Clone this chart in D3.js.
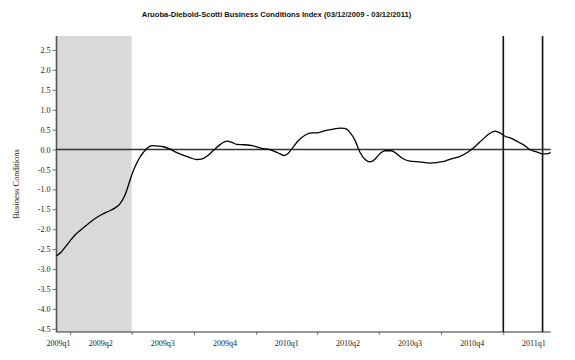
<!DOCTYPE html>
<html>
<head>
<meta charset="utf-8">
<script src="https://cdn.jsdelivr.net/npm/d3@7"></script>
<style>
  html, body { margin: 0; padding: 0; background: #fff; }
  svg { display: block; }
  .serif text, text.serif { font-family: "Liberation Serif", "Times New Roman", serif !important; }
</style>
</head>
<body>
<svg id="chart" width="575" height="360"></svg>
<script>
// ---- data ----
const dates = [
  "2009-03-12","2009-03-19","2009-03-29","2009-04-08","2009-04-18","2009-04-28","2009-05-08","2009-05-18",
  "2009-05-28","2009-06-06","2009-06-14","2009-06-21","2009-06-29","2009-07-03","2009-07-08","2009-07-13",
  "2009-07-18","2009-07-23","2009-07-31","2009-08-07","2009-08-17","2009-08-27","2009-09-05","2009-09-15",
  "2009-09-25","2009-10-05","2009-10-12","2009-10-20","2009-10-30","2009-11-09","2009-11-19","2009-11-26",
  "2009-12-03","2009-12-15","2009-12-28","2010-01-09","2010-01-21","2010-02-02","2010-02-11","2010-02-17",
  "2010-02-24","2010-03-04","2010-03-14","2010-03-24","2010-04-02","2010-04-12","2010-04-25","2010-05-05",
  "2010-05-12","2010-05-20","2010-05-27","2010-06-03","2010-06-11","2010-06-18","2010-06-25","2010-07-03",
  "2010-07-10","2010-07-20","2010-07-27","2010-08-06","2010-08-16","2010-08-31","2010-09-14","2010-09-27",
  "2010-10-07","2010-10-17","2010-10-29","2010-11-10","2010-11-20","2010-11-30","2010-12-10","2010-12-20",
  "2010-12-27","2011-01-03","2011-01-13","2011-01-23","2011-01-30","2011-02-09","2011-02-19","2011-03-01",
  "2011-03-08","2011-03-12"
];
const values = [
  -2.67,-2.57,-2.36,-2.15,-2.00,-1.86,-1.73,-1.63,
  -1.55,-1.47,-1.36,-1.15,-0.75,-0.55,-0.36,-0.20,
  -0.08,0.02,0.10,0.09,0.07,0.01,-0.07,-0.14,
  -0.20,-0.25,-0.24,-0.17,-0.02,0.13,0.21,0.18,
  0.13,0.12,0.09,0.03,0.00,-0.08,-0.15,-0.10,
  0.05,0.22,0.36,0.42,0.42,0.47,0.51,0.54,
  0.53,0.42,0.23,-0.06,-0.25,-0.31,-0.25,-0.10,
  -0.03,-0.03,-0.10,-0.23,-0.29,-0.31,-0.34,-0.32,
  -0.29,-0.23,-0.17,-0.06,0.07,0.23,0.38,0.46,
  0.42,0.34,0.28,0.19,0.13,0.00,-0.06,-0.11,
  -0.10,-0.08
];
const dateRange = ["2009-03-12", "2011-03-12"];
const recession = ["2009-03-12", "2009-07-01"];
const markerDates = ["2011-01-01", "2011-02-28"];
const quarterTicks = ["2009-04-01","2009-07-01","2009-10-01","2010-01-01","2010-04-01","2010-07-01","2010-10-01","2011-01-01"];
const quarterLabels = ["2009q1","2009q2","2009q3","2009q4","2010q1","2010q2","2010q3","2010q4","2011q1"];
const quarterStarts = ["2009-01-01","2009-04-01","2009-07-01","2009-10-01","2010-01-01","2010-04-01","2010-07-01","2010-10-01","2011-01-01"];
const quarterEnds   = ["2009-04-01","2009-07-01","2009-10-01","2010-01-01","2010-04-01","2010-07-01","2010-10-01","2011-01-01","2011-04-01"];
const yTicks = [2.5,2.0,1.5,1.0,0.5,0.0,-0.5,-1.0,-1.5,-2.0,-2.5,-3.0,-3.5,-4.0,-4.5];
const yDomain = [-4.58, 2.85];
const titleText = "Aruoba-Diebold-Scotti Business Conditions Index (03/12/2009 - 03/12/2011)";
const yTitle = "Business Conditions";

// ---- layout ----
const parse = d3.utcParse("%Y-%m-%d");
const svg = d3.select("#chart");
const mLeft = 56.5, mRight = 550.7, mTop = 36, mBottom = 332;

const x = d3.scaleUtc().domain(dateRange.map(parse)).range([mLeft, mRight]);
const y = d3.scaleLinear().domain(yDomain).range([mBottom, mTop]);

const data = dates.map((d, i) => ({ date: parse(d), value: values[i] }));

// recession shading
svg.append("rect")
  .attr("x", x(parse(recession[0])))
  .attr("y", mTop)
  .attr("width", x(parse(recession[1])) - x(parse(recession[0])))
  .attr("height", mBottom - mTop)
  .attr("fill", "#d9d9d9");

// title
svg.append("text")
  .attr("x", 276.5).attr("y", 16.5)
  .attr("text-anchor", "middle")
  .style("font-family", "'Liberation Sans', Arial, sans-serif")
  .style("font-weight", "bold")
  .style("font-size", "7.6px")
  .attr("fill", "#111")
  .text(titleText);

// y axis title
svg.append("text")
  .attr("class", "serif")
  .attr("transform", `translate(19,${(mTop + mBottom) / 2}) rotate(-90)`)
  .attr("text-anchor", "middle")
  .style("font-size", "8.5px")
  .attr("fill", "#222")
  .text(yTitle);

// y axis
const yAxis = svg.append("g")
  .attr("class", "serif")
  .attr("transform", `translate(${mLeft},0)`)
  .call(d3.axisLeft(y).tickValues(yTicks).tickSize(4).tickPadding(2)
        .tickFormat(d => d.toFixed(1)));
yAxis.attr("font-family", null).attr("font-size", null);
yAxis.select(".domain").remove();
yAxis.selectAll(".tick line").attr("stroke", "#777");
yAxis.selectAll("text")
  .style("font-size", "8px").attr("fill", "#222");

// x axis ticks
const xAxis = svg.append("g")
  .attr("transform", `translate(0,${mBottom})`)
  .call(d3.axisBottom(x).tickValues(quarterTicks.map(parse)).tickSize(3).tickFormat(""));
xAxis.select(".domain").remove();
xAxis.selectAll(".tick line").attr("stroke", "#777");

// x labels centered on quarters (clamped to visible range)
svg.append("g").attr("class", "serif").selectAll("text")
  .data(quarterLabels)
  .join("text")
  .attr("x", (d, i) => {
    const s = parse(quarterStarts[i]), e = parse(quarterEnds[i]);
    const mid = new Date((s.getTime() + e.getTime()) / 2);
    return Math.max(x(mid), mLeft + 2);
  })
  .attr("y", mBottom + 14)
  .attr("text-anchor", "middle")
  .style("font-size", "8px").attr("fill", "#222")
  .text(d => d);

// axis lines
svg.append("line")
  .attr("x1", mLeft).attr("x2", mLeft).attr("y1", mTop).attr("y2", mBottom)
  .attr("stroke", "#555").attr("stroke-width", 1.6);
svg.append("line")
  .attr("x1", mLeft).attr("x2", mRight).attr("y1", mBottom).attr("y2", mBottom)
  .attr("stroke", "#333").attr("stroke-width", 1.2);

// zero line
svg.append("line")
  .attr("x1", mLeft).attr("x2", mRight).attr("y1", y(0)).attr("y2", y(0))
  .attr("stroke", "#333").attr("stroke-width", 1.5);

// marker vertical lines
svg.append("g").selectAll("line")
  .data(markerDates)
  .join("line")
  .attr("x1", d => x(parse(d))).attr("x2", d => x(parse(d)))
  .attr("y1", mTop).attr("y2", mBottom)
  .attr("stroke", "#111").attr("stroke-width", 1.6);

// data line
const line = d3.line()
  .x(d => x(d.date))
  .y(d => y(d.value))
  .curve(d3.curveMonotoneX);
svg.append("path")
  .datum(data)
  .attr("fill", "none")
  .attr("stroke", "#000")
  .attr("stroke-width", 1.3)
  .attr("d", line);
</script>
</body>
</html>
